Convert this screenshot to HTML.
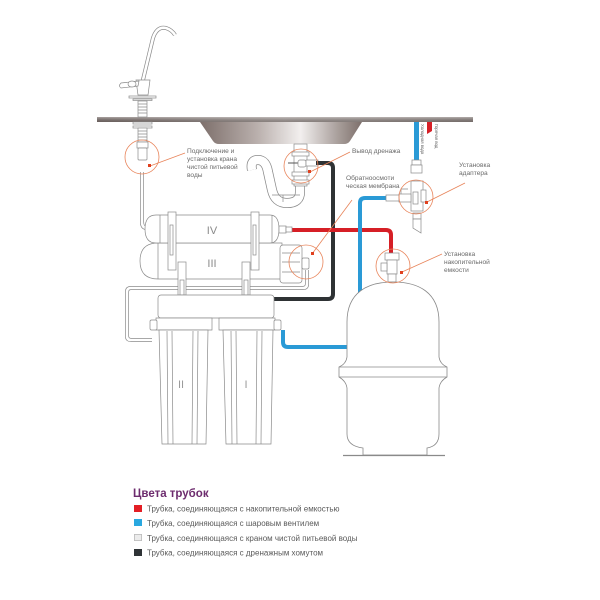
<!DOCTYPE html>
<html><head><meta charset="utf-8"><style>
html,body{margin:0;padding:0;background:#fff;}
svg{display:block;}
text{font-family:"Liberation Sans","DejaVu Sans",sans-serif;}
</style></head><body>
<svg width="600" height="600" viewBox="0 0 600 600" xmlns="http://www.w3.org/2000/svg">
<defs>
<linearGradient id="ct" x1="0" x2="1" y1="0" y2="0">
<stop offset="0" stop-color="#7c706d"/><stop offset="0.5" stop-color="#a59c99"/><stop offset="1" stop-color="#8a807d"/>
</linearGradient>
<linearGradient id="ctv" x1="0" x2="0" y1="0" y2="1">
<stop offset="0" stop-color="#ffffff" stop-opacity="0.35"/><stop offset="1" stop-color="#000" stop-opacity="0.15"/>
</linearGradient>
<linearGradient id="bowl" x1="0" x2="1" y1="0" y2="0">
<stop offset="0" stop-color="#7d6f6b"/><stop offset="0.35" stop-color="#b9afac"/><stop offset="0.62" stop-color="#f2efee"/><stop offset="0.85" stop-color="#a99f9c"/><stop offset="1" stop-color="#7d6f6b"/>
</linearGradient>
</defs>

<!-- countertop -->
<rect x="97" y="117" width="376" height="5" fill="url(#ct)"/>
<rect x="97" y="117" width="376" height="5" fill="url(#ctv)"/>
<!-- sink bowl -->
<path d="M200,122 L362,122 L350,141 Q348,144 344,144 L219,144 Q215,144 213,141 Z" fill="url(#bowl)"/>

<!-- water supply lines -->
<rect x="414" y="122" width="5" height="38" fill="#2a9ad6"/>
<path d="M427,122 L432,122 L432,131 L427,134 Z" fill="#d61f26"/>
<text transform="translate(421,124) rotate(90)" font-size="4.3" fill="#666">Холодная вода</text>
<text transform="translate(435,124) rotate(90)" font-size="4.3" fill="#666">Горячая вод</text>

<!-- faucet -->
<g fill="#fff" stroke="#8a8a8a" stroke-width="0.7">
<path d="M142,84 L153,38 Q157,26 166,28 Q172,30 175,35" stroke-width="4" stroke="#8a8a8a" fill="none"/>
<path d="M142,84 L153,38 Q157,26 166,28 Q172,30 175,35" stroke-width="2.6" stroke="#fff" fill="none"/>
<path d="M136,80 L150,80 L148,95 L138,95 Z"/>
<path d="M139,81 L121,83 Q118,86 121,88 L138,86 Z"/>
<ellipse cx="132" cy="84" rx="4" ry="3"/>
<rect x="129" y="96" width="27" height="2"/>
<rect x="133" y="99" width="19" height="1.5"/>
<rect x="138" y="101" width="9" height="16"/>
<path d="M138,104 H147 M138,107 H147 M138,110 H147 M138,113 H147" fill="none"/>
<rect x="133" y="122" width="19" height="2"/>
<rect x="133" y="126" width="19" height="2"/>
<rect x="138" y="128" width="9" height="14"/>
<path d="M138,131 H147 M138,134 H147 M138,137 H147 M138,140 H147" fill="none"/>
<rect x="137" y="142" width="11" height="6"/>
<rect x="138" y="148" width="9" height="12" rx="1"/>
</g>
<!-- tube from faucet to IV -->
<path d="M142,172 V222 Q142,228 147,228" fill="none" stroke="#8a8a8a" stroke-width="4"/>
<path d="M142,172 V222 Q142,228 147,228" fill="none" stroke="#fff" stroke-width="2.6"/>

<!-- drain trap -->
<path d="M300,182 V192 Q300,203 287,203 Q275,203 272,190 L268,172 Q266,160 258,160 Q250,160 252,170" fill="none" stroke="#8a8a8a" stroke-width="10"/>
<path d="M300,182 V192 Q300,203 287,203 Q275,203 272,190 L268,172 Q266,160 258,160 Q250,160 252,170" fill="none" stroke="#fff" stroke-width="8.5"/>
<g fill="#fff" stroke="#8a8a8a" stroke-width="0.7">
<rect x="294" y="144" width="13" height="42"/>
<rect x="292" y="152" width="17" height="4"/>
<rect x="292" y="172" width="17" height="4"/>
<rect x="292" y="180" width="17" height="4"/>
<path d="M288,163 H300" fill="none" stroke="#555" stroke-width="1"/>
<rect x="298" y="160" width="8" height="7" rx="2"/>
<rect x="306" y="160" width="12" height="6"/>
<path d="M283,202 V195 M300,195 H272" fill="none"/>
</g>

<!-- drain pipe (black) -->
<path d="M316,163 H328 Q333,163 333,168 V294 Q333,299 328,299 H274" fill="none" stroke="#2e3234" stroke-width="4"/>

<!-- red pipe -->
<path d="M292,230 H386 Q391,230 391,235 V253" fill="none" stroke="#d61f26" stroke-width="4"/>

<!-- blue pipe -->
<path d="M386,198 H365 Q360,198 360,203 V342 Q360,347 355,347 H288 Q283,347 283,342 V330" fill="none" stroke="#2a9ad6" stroke-width="4"/>

<!-- adapter -->
<g fill="#fff" stroke="#8a8a8a" stroke-width="0.7">
<rect x="412" y="160" width="9" height="5"/>
<rect x="411" y="165" width="11" height="8"/>
<rect x="411" y="181" width="12" height="30"/>
<rect x="413" y="192" width="5" height="12"/>
<rect x="421" y="190" width="5" height="12"/>
<rect x="399" y="194" width="12" height="8"/>
<rect x="386" y="195" width="13" height="6"/>
<path d="M401,194 V189 H408" fill="none"/>
<rect x="413" y="213" width="8" height="6"/>
<path d="M413,219 H421 V233 L413,228 Z"/>
</g>

<!-- tank valve -->
<g fill="#fff" stroke="#8a8a8a" stroke-width="0.7">
<rect x="385" y="253" width="14" height="7"/>
<rect x="387" y="260" width="10" height="14"/>
<rect x="381" y="263" width="6" height="8"/>
<rect x="388" y="274" width="8" height="8"/>
</g>

<!-- tank -->
<g fill="#fff" stroke="#8a8a8a" stroke-width="0.8">
<path d="M347,357 V322 C347,292 368,282 393,282 C418,282 439,292 439,322 V357 Q440,364 447,367 V377 Q440,381 439,388 V434 Q439,446 427,448 V455 H363 V448 Q347,446 347,434 V388 Q346,381 339,377 V367 Q346,364 347,357 Z"/>
<path d="M339,367 H447 M339,377 H447" fill="none"/>
<path d="M343,455.5 H445" stroke-width="1.2"/>
</g>

<!-- white tube from III to housing -->
<path d="M307,270 V284 Q307,288 303,288 H131 Q127,288 127,292 V336 Q127,340 131,340 H152" fill="none" stroke="#8a8a8a" stroke-width="4"/>
<path d="M307,270 V284 Q307,288 303,288 H131 Q127,288 127,292 V336 Q127,340 131,340 H152" fill="none" stroke="#fff" stroke-width="2.6"/>

<!-- filters III and IV -->
<g fill="#fff" stroke="#8a8a8a" stroke-width="0.7">
<path d="M158,243 H282 V279 H158 Q140,279 140,261 Q140,243 158,243 Z"/>
<path d="M158,243 V279" fill="none"/>
<rect x="280" y="245" width="22" height="38" rx="3"/>
<path d="M282,253 H300 M282,262 H300 M282,272 H300" fill="none"/>
<rect x="302" y="258" width="7" height="11" rx="1.5"/>
<path d="M156,215 H270 Q279,215 279,229 Q279,243 270,243 H156 Q145,243 145,229 Q145,215 156,215 Z"/>
<path d="M160,215 V243 M272,215 V243" fill="none"/>
<rect x="279" y="226" width="7" height="7"/>
<rect x="286" y="227" width="6" height="5"/>
<!-- brackets -->
<rect x="168" y="212" width="8" height="58"/>
<rect x="170" y="225" width="3" height="30"/>
<rect x="251" y="212" width="8" height="58"/>
<rect x="253" y="225" width="3" height="30"/>
<!-- connectors -->
<rect x="178" y="262" width="8" height="33"/>
<rect x="180" y="280" width="4" height="15"/>
<rect x="242" y="262" width="8" height="33"/>
<rect x="244" y="280" width="4" height="15"/>
</g>
<text x="212" y="234" font-size="11" fill="#8a8a8a" text-anchor="middle">IV</text>
<text x="212" y="267" font-size="11" fill="#8a8a8a" text-anchor="middle">III</text>

<!-- housing filters I & II -->
<g fill="#fff" stroke="#8a8a8a" stroke-width="0.7">
<rect x="158" y="295" width="116" height="23" rx="3"/>
<path d="M156,318 H212 V330 H156 Z"/>
<path d="M219,318 H275 V330 H219 Z"/>
<rect x="150" y="320" width="7" height="10" rx="1.5"/>
<rect x="274" y="320" width="7" height="10" rx="1.5"/>
<path d="M159,330 L162,444 H206 L208,330 Z"/>
<path d="M167,331 L168,444 M172,331 L173,444 M193,331 L192,444 M198,331 L197,444" fill="none"/>
<path d="M223,330 L226,444 H271 L273,330 Z"/>
<path d="M231,331 L232,444 M236,331 L237,444 M257,331 L256,444 M262,331 L261,444" fill="none"/>
</g>
<text x="181" y="388" font-size="11" fill="#9a9a9a" text-anchor="middle">II</text>
<text x="246" y="388" font-size="11" fill="#9a9a9a" text-anchor="middle">I</text>

<!-- orange callouts -->
<g fill="none" stroke="#e8845a" stroke-width="0.8">
<circle cx="142" cy="157" r="17"/>
<circle cx="301" cy="166" r="17"/>
<circle cx="306" cy="262" r="17"/>
<circle cx="416" cy="197" r="17"/>
<circle cx="393" cy="266" r="17"/>
<path d="M150,166 L185,153"/>
<path d="M310,172 L350,152"/>
<path d="M312,254 L352,200"/>
<path d="M427,202 L465,183"/>
<path d="M402,272 L442,254"/>
</g>
<g fill="#e0401e">
<rect x="148" y="164" width="3" height="3"/>
<rect x="308" y="170" width="3" height="3"/>
<rect x="311" y="252" width="3" height="3"/>
<rect x="425" y="201" width="3" height="3"/>
<rect x="400" y="271" width="3" height="3"/>
</g>

<!-- labels -->
<g font-size="6.6" fill="#6a6a6a">
<text x="187" y="153">Подключение и</text>
<text x="187" y="161">установка крана</text>
<text x="187" y="169">чистой питьевой</text>
<text x="187" y="177">воды</text>
<text x="352" y="153">Вывод дренажа</text>
<text x="346" y="180">Обратноосмоти</text>
<text x="346" y="188">ческая мембрана</text>
<text x="459" y="167">Установка</text>
<text x="459" y="175">адаптера</text>
<text x="444" y="256">Установка</text>
<text x="444" y="264">накопительной</text>
<text x="444" y="272">емкости</text>
</g>

<!-- legend -->
<text x="133" y="497" font-size="11.5" font-weight="bold" fill="#6d2c6e">Цвета трубок</text>
<rect x="134" y="505" width="8" height="7" fill="#e31e24"/>
<rect x="134" y="519" width="8" height="7" fill="#29a8e0"/>
<rect x="134.4" y="534.4" width="7.2" height="6.2" fill="#ececec" stroke="#bbb" stroke-width="0.8"/>
<rect x="134" y="549" width="8" height="7" fill="#2f3336"/>
<g font-size="8" fill="#5a5a5a">
<text x="147" y="511.5">Трубка, соединяющаяся с накопительной емкостью</text>
<text x="147" y="526">Трубка, соединяющаяся с шаровым вентилем</text>
<text x="147" y="541">Трубка, соединяющаяся с краном чистой питьевой воды</text>
<text x="147" y="555.5">Трубка, соединяющаяся с дренажным хомутом</text>
</g>
</svg>
</body></html>
